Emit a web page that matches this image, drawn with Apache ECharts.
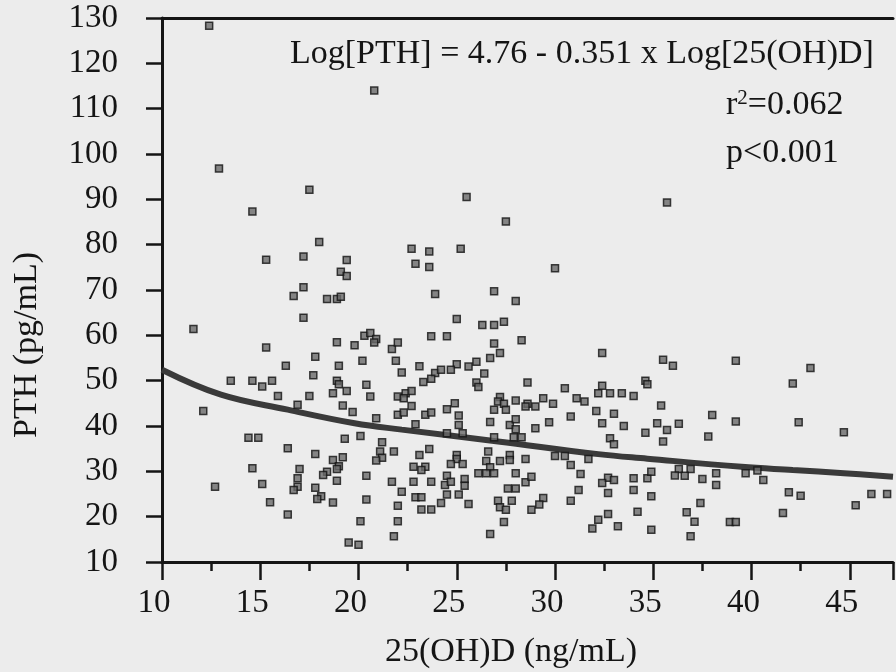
<!DOCTYPE html>
<html>
<head>
<meta charset="utf-8">
<script src="https://cdn.jsdelivr.net/npm/echarts@6/dist/echarts.min.js"></script>
<style>
  html, body { margin: 0; padding: 0; background: #efefef; }
  #pth_scatter { width: 896px; height: 672px; }
</style>
</head>
<body>
<div id="pth_scatter"></div>
<script>
// 25(OH)D (ng/mL) and PTH (pg/mL)
const vitD = [
  12.4, 20.8, 12.9, 17.5, 14.6, 25.5, 35.7,
  18.0, 15.3, 17.2, 19.4, 19.1, 19.4, 17.2, 16.7, 18.4, 18.9, 19.1, 17.2, 11.6,
  15.3, 18.9, 19.8, 20.3, 20.6, 20.9, 20.8, 21.7, 22.0, 17.8, 20.2, 21.9, 16.3,
  19.0, 22.2, 17.7, 13.5, 14.6, 15.6, 15.1, 18.9, 19.0, 20.4,
  15.9, 17.5, 18.7, 19.4, 20.6, 22.0, 12.1, 16.9, 19.2, 19.7, 20.9, 22.0, 14.4,
  14.9, 19.3, 20.1, 21.2, 16.4, 17.8, 21.1, 21.8, 21.2, 20.9, 19.2, 18.7, 14.6,
  19.0, 18.9, 17.0, 18.4, 18.2, 16.9, 18.9, 20.4, 21.7, 12.7, 15.1, 16.9, 16.7,
  17.8, 18.1, 17.9, 18.7, 20.4, 22.2, 15.5, 22.0, 16.4, 20.1, 22.0, 21.8, 19.5, 20.0,
  27.5, 22.7, 23.6, 25.2, 22.9, 23.6, 30.0, 23.9, 26.9, 28.0, 25.0, 26.3, 26.9,
  27.4, 23.7, 24.5, 28.3, 26.9, 27.2, 32.4, 26.7, 26.0, 23.1, 25.0, 25.6, 23.9,
  24.2, 24.7, 26.4, 23.3, 23.7, 26.0, 26.1, 28.6, 30.5, 32.4, 34.6,
  22.4, 22.7, 22.3, 22.7, 22.3, 23.4, 23.7, 22.9, 24.5, 24.9, 25.1, 25.1, 24.5,
  25.3, 27.2, 27.1, 27.4, 28.0, 26.9, 27.5, 28.6, 28.5, 29.0, 29.4, 29.9, 31.1,
  31.5, 32.2, 32.8, 33.4, 34.0, 32.1, 33.0, 26.7, 27.7, 28.0, 28.0, 29.0, 29.7,
  30.8, 32.4, 33.5, 34.6, 32.8, 33.0, 26.9, 27.9, 28.3, 23.6, 23.1, 25.0, 25.0,
  26.6, 27.7, 27.7, 30.0, 30.5, 31.7, 22.8, 23.4, 23.2, 24.7, 25.3, 26.5, 27.2,
  28.5, 30.8, 26.7, 26.5, 26.9, 26.1, 28.0, 24.5, 31.3, 32.7, 33.0, 34.0, 34.7,
  22.8, 23.7, 24.4, 24.7, 25.4, 25.4, 28.5, 28.8, 32.4, 34.0, 27.6, 28.0, 31.2,
  32.7, 24.5, 25.1, 22.9, 23.2, 24.2, 25.6, 27.1, 27.8, 29.4, 30.8, 27.2, 27.5,
  29.2, 23.2, 23.7, 28.8, 32.7, 34.2, 27.4, 32.2, 31.9, 33.2, 26.7,
  42.1, 35.4, 38.0, 39.2, 42.4, 44.7, 35.2, 36.3, 35.7, 35.5, 37.8, 34.9, 36.3,
  36.9, 36.1, 36.6, 37.5, 38.2, 38.2, 39.7, 40.3, 40.6, 34.9, 37.4, 41.9, 42.5,
  46.1, 46.9, 45.3, 36.7, 41.6, 37.1, 38.9, 39.2, 34.9, 36.9, 35.5, 36.0, 39.2,
  43.0, 34.7
];
const pth = [
  128.3, 114.0, 96.8, 92.1, 87.3, 90.5, 89.3,
  80.6, 76.7, 77.4, 76.6, 74.0, 73.1, 70.6, 68.7, 68.0, 68.0, 68.5, 63.9, 61.4,
  57.3, 58.5, 57.8, 59.9, 60.5, 59.2, 58.4, 57.0, 58.4, 55.3, 54.4, 54.4, 53.3,
  53.3, 51.8, 51.2, 50.0, 50.0, 50.0, 48.7, 50.0, 49.2, 49.1,
  46.6, 46.6, 47.2, 47.7, 46.5, 46.5, 43.3, 44.7, 44.5, 43.1, 41.7, 42.5, 37.4,
  37.4, 37.2, 37.8, 36.4, 35.1, 33.8, 34.4, 34.4, 33.0, 32.4, 33.1, 32.5, 30.7,
  31.1, 30.5, 30.5, 29.9, 29.2, 28.5, 27.9, 29.0, 27.7, 26.6, 27.2, 26.6, 25.9,
  26.4, 24.5, 23.9, 23.1, 23.8, 25.5, 23.2, 22.4, 20.5, 19.0, 19.0, 15.7, 14.3, 13.8,
  85.1, 79.1, 78.5, 79.1, 75.8, 75.1, 74.8, 69.1, 69.7, 67.6, 63.6, 62.3, 62.3,
  63.0, 59.8, 59.8, 58.9, 58.2, 56.1, 56.1, 55.0, 54.2, 53.2, 53.6, 53.1, 51.7,
  52.4, 52.4, 51.6, 49.7, 50.4, 49.6, 48.6, 49.6, 48.3, 48.9, 50.0,
  47.2, 47.7, 46.1, 44.4, 43.0, 42.5, 43.0, 40.4, 43.7, 45.0, 42.3, 40.2, 38.4,
  38.4, 46.4, 45.4, 44.9, 45.6, 43.6, 43.6, 44.9, 44.3, 44.3, 46.1, 44.9, 46.1,
  45.4, 47.2, 47.2, 47.2, 46.6, 43.3, 42.7, 40.9, 40.2, 41.5, 39.3, 39.5, 40.8,
  42.1, 40.6, 40.0, 38.5, 37.3, 36.0, 37.5, 37.5, 37.5, 34.9, 33.6, 33.6, 32.7,
  34.4, 33.6, 32.5, 33.4, 33.4, 32.7, 31.0, 31.0, 30.3, 31.6, 31.6, 32.3, 32.3,
  32.7, 31.4, 30.9, 29.6, 29.6, 29.6, 29.6, 29.0, 29.4, 28.6, 28.1, 28.5, 28.5,
  27.7, 27.7, 27.0, 27.7, 28.3, 26.8, 27.6, 28.8, 27.4, 25.9, 26.2, 26.2, 25.9,
  25.2, 24.9, 24.9, 24.3, 24.3, 23.0, 22.8, 23.5, 23.5, 24.1, 23.5, 22.1, 21.5,
  22.7, 21.6, 21.6, 21.5, 20.6, 21.1, 18.8, 19.3, 17.4, 17.9, 16.2,
  49.4, 44.5, 42.4, 41.0, 40.8, 38.6, 40.6, 40.5, 39.1, 36.6, 37.7, 29.9, 30.5,
  30.5, 29.1, 29.0, 28.3, 29.6, 27.0, 29.6, 30.2, 28.1, 24.5, 23.0, 25.4, 24.6,
  25.0, 25.0, 22.5, 21.0, 20.8, 18.9, 18.8, 18.8, 17.1, 15.7, 54.6, 53.3, 54.4,
  52.8, 49.2
];

// fitted curve as drawn in the figure
const fitX = [10, 13, 16.4, 19.8, 22.2, 27.1, 32.2, 34.7, 39.5, 42.1, 44.7, 47.2];
const fitY = [52.4, 46.9, 43.6, 40.6, 39.2, 36.6, 33.8, 32.8, 31.0, 30.3, 29.6, 28.8];

const xTicks = [10, 15, 20, 25, 30, 35, 40, 45];
const yTicks = [10, 20, 30, 40, 50, 60, 70, 80, 90, 100, 110, 120, 130];

const serif = "'Liberation Serif', 'DejaVu Serif', serif";
const ink = "#151515";

const myChart = echarts.init(document.getElementById("pth_scatter"));

const option = {
  backgroundColor: "#ececec",
  animation: false,
  grid: {
    left: 162,
    right: 0,
    top: 18,
    bottom: 110,
  },
  xAxis: [
    {
      type: "value",
      min: xTicks[0],
      max: 47.2,
      interval: xTicks[1] - xTicks[0],
      axisLine: { show: true, lineStyle: { color: ink, width: 3 } },
      axisTick: { show: true, inside: false, length: 18, lineStyle: { color: ink, width: 2.5 } },
      minorTick: { show: true, splitNumber: 2, length: 9, lineStyle: { color: ink, width: 2.5 } },
      splitLine: { show: false },
      axisLabel: {
        color: ink,
        fontSize: 33,
        fontFamily: serif,
        margin: 25,
        padding: [0, 16, 0, 0],
        formatter: (v) => (xTicks.includes(v) ? String(v) : ""),
      },
    },
    {
      type: "value",
      position: "top",
      min: xTicks[0],
      max: 47.2,
      axisLine: { show: true, lineStyle: { color: ink, width: 3 } },
      axisTick: { show: false },
      axisLabel: { show: false },
      splitLine: { show: false },
    },
  ],
  yAxis: {
    type: "value",
    min: yTicks[0],
    max: yTicks[yTicks.length - 1],
    interval: 10,
    axisLine: { show: true, lineStyle: { color: ink, width: 3 } },
    axisTick: { show: true, inside: false, length: 16, lineStyle: { color: ink, width: 2.5 } },
    splitLine: { show: false },
    axisLabel: {
      color: ink,
      fontSize: 33,
      fontFamily: serif,
      margin: 44,
    },
  },
  graphic: [
    {
      type: "text",
      left: 290,
      top: 37,
      style: {
        text: "Log[PTH] = 4.76 - 0.351 x Log[25(OH)D]",
        font: "34px " + serif,
        fill: ink,
      },
    },
    {
      type: "text",
      left: 726,
      top: 88,
      style: {
        text: "r{sup|2}=0.062",
        font: "34px " + serif,
        fill: ink,
        rich: {
          sup: { fontSize: 21, fontFamily: serif, verticalAlign: "top", fill: ink, padding: [0, 0, 13, 0] },
        },
      },
    },
    {
      type: "text",
      left: 726,
      top: 136,
      style: {
        text: "p<0.001",
        font: "34px " + serif,
        fill: ink,
      },
    },
    {
      type: "text",
      x: 27,
      y: 345,
      rotation: Math.PI / 2,
      style: {
        text: "PTH (pg/mL)",
        font: "34px " + serif,
        fill: ink,
        align: "center",
        verticalAlign: "middle",
      },
    },
    {
      type: "text",
      x: 511,
      y: 652,
      style: {
        text: "25(OH)D (ng/mL)",
        font: "34px " + serif,
        fill: ink,
        align: "center",
        verticalAlign: "middle",
      },
    },
  ],
  series: [
    {
      name: "fit",
      type: "line",
      data: fitX.map((x, i) => [x, fitY[i]]),
      smooth: 0.4,
      symbol: "none",
      lineStyle: { color: "#3a3a3a", width: 6 },
      z: 2,
    },
    {
      name: "PTH",
      type: "scatter",
      data: vitD.map((x, i) => [x, pth[i]]),
      symbol: "rect",
      symbolSize: 7,
      itemStyle: { color: "#6a6a6a", borderColor: "#111", borderWidth: 1.5 },
      z: 3,
    },
  ],
};

myChart.setOption(option);
window.addEventListener("resize", () => {
  myChart.resize();
});
</script>
</body>
</html>
